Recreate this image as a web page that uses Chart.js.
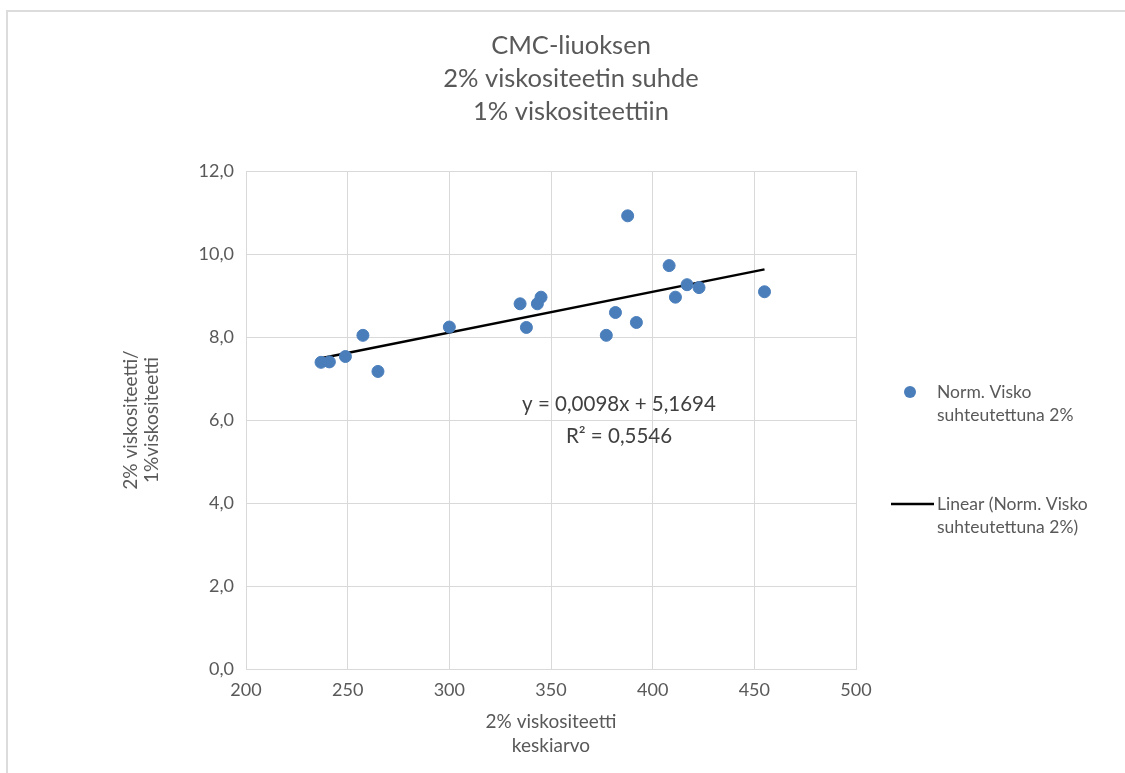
<!DOCTYPE html>
<html>
<head>
<meta charset="utf-8">
<script src="https://cdn.jsdelivr.net/npm/chart.js@4"></script>
<style>
  html, body { margin: 0; padding: 0; background: #fff; }
  #box { position: relative; width: 1125px; height: 773px; }
</style>
</head>
<body>
<div id="box"><canvas id="myChart" width="1125" height="773"></canvas></div>
<script>
// values
const xValues = [236.9, 241.0, 248.9, 257.5, 264.9, 300.0, 334.8, 337.9, 343.3, 345.1,
                 377.2, 381.7, 387.7, 392.0, 408.1, 411.2, 416.9, 422.8, 455.0];
const yValues = [7.39, 7.40, 7.53, 8.04, 7.17, 8.24, 8.80, 8.23, 8.80, 8.96,
                 8.04, 8.59, 10.92, 8.35, 9.72, 8.96, 9.26, 9.19, 9.09];
// trendline end points
const trendX = [236.9, 455.0];
const trendY = [7.49, 9.63];

const titleLines = ["CMC-liuoksen", "2% viskositeetin suhde", "1% viskositeettiin"];
const xTitle = ["2% viskositeetti", "keskiarvo"];
const yTitle = ["2% viskositeetti/", "1%viskositeetti"];
const equation = ["y = 0,0098x + 5,1694", "R\u00b2 = 0,5546"];
const seriesName = ["Norm. Visko", "suhteutettuna 2%"];
const trendName = ["Linear (Norm. Visko", "suhteutettuna 2%)"];

const FONT = "Lato";
const GREY = "#595959";
const BLUE = "#4a7ebb";

const points = xValues.map((x, i) => ({ x: x, y: yValues[i] }));
const trend = trendX.map((x, i) => ({ x: x, y: trendY[i] }));

// texts drawn the way excel places them
const excelText = {
  id: "excelText",
  beforeDraw(chart) {
    const ctx = chart.ctx;
    ctx.save();
    ctx.fillStyle = "#dcdcdc";
    ctx.fillRect(6, 10, 1119, 2);
    ctx.fillRect(6, 10, 2, 763);
    ctx.restore();
  },
  afterDraw(chart) {
    const ctx = chart.ctx;
    ctx.save();
    ctx.fillStyle = GREY;
    ctx.textAlign = "center";
    ctx.textBaseline = "middle";

    ctx.font = "25.5px " + FONT;
    titleLines.forEach((t, i) => ctx.fillText(t, 571, 46 + i * 33));

    ctx.font = "19px " + FONT;
    xTitle.forEach((t, i) => ctx.fillText(t, 551, 722 + i * 24));

    ctx.save();
    ctx.translate(141, 420);
    ctx.rotate(-Math.PI / 2);
    yTitle.forEach((t, i) => ctx.fillText(t, 0, -10 + i * 21));
    ctx.restore();

    ctx.fillStyle = "#404040";
    ctx.font = "20.5px " + FONT;
    equation.forEach((t, i) => ctx.fillText(t, 619, 404 + i * 32));

    // legend
    ctx.fillStyle = BLUE;
    ctx.beginPath();
    ctx.arc(910, 392, 6, 0, Math.PI * 2);
    ctx.fill();
    ctx.strokeStyle = "#000";
    ctx.lineWidth = 2.5;
    ctx.beginPath();
    ctx.moveTo(891, 504);
    ctx.lineTo(934, 504);
    ctx.stroke();

    ctx.fillStyle = GREY;
    ctx.textAlign = "left";
    ctx.font = "17.5px " + FONT;
    seriesName.forEach((t, i) => ctx.fillText(t, 937, 392 + i * 23));
    trendName.forEach((t, i) => ctx.fillText(t, 937, 504 + i * 23));
    ctx.restore();
  }
};

new Chart("myChart", {
  type: "scatter",
  data: {
    datasets: [{
      label: "Norm. Visko suhteutettuna 2%",
      data: points,
      backgroundColor: BLUE,
      borderColor: BLUE,
      pointRadius: 6,
      pointHoverRadius: 6
    }, {
      label: "Linear (Norm. Visko suhteutettuna 2%)",
      type: "line",
      data: trend,
      borderColor: "#000",
      borderWidth: 2.5,
      pointRadius: 0,
      fill: false
    }]
  },
  options: {
    responsive: false,
    animation: false,
    layout: { padding: { left: 0, top: 171, right: 269, bottom: 0 } },
    plugins: { legend: { display: false }, title: { display: false }, tooltip: { enabled: false } },
    scales: {
      x: {
        type: "linear",
        min: 200, max: 500,
        ticks: { stepSize: 50, padding: 10, color: GREY, font: { family: FONT, size: 18 } },
        grid: { color: "#d9d9d9", drawTicks: false },
        border: { color: "#d9d9d9" },
        afterFit(scale) { scale.height = 104; }
      },
      y: {
        min: 0, max: 12,
        ticks: {
          stepSize: 2, padding: 12, color: GREY, font: { family: FONT, size: 18 },
          callback: v => v.toFixed(1).replace(".", ",")
        },
        grid: { color: "#d9d9d9", drawTicks: false },
        border: { display: false },
        afterFit(scale) { scale.width = 246; }
      }
    }
  },
  plugins: [excelText]
});
</script>
</body>
</html>
